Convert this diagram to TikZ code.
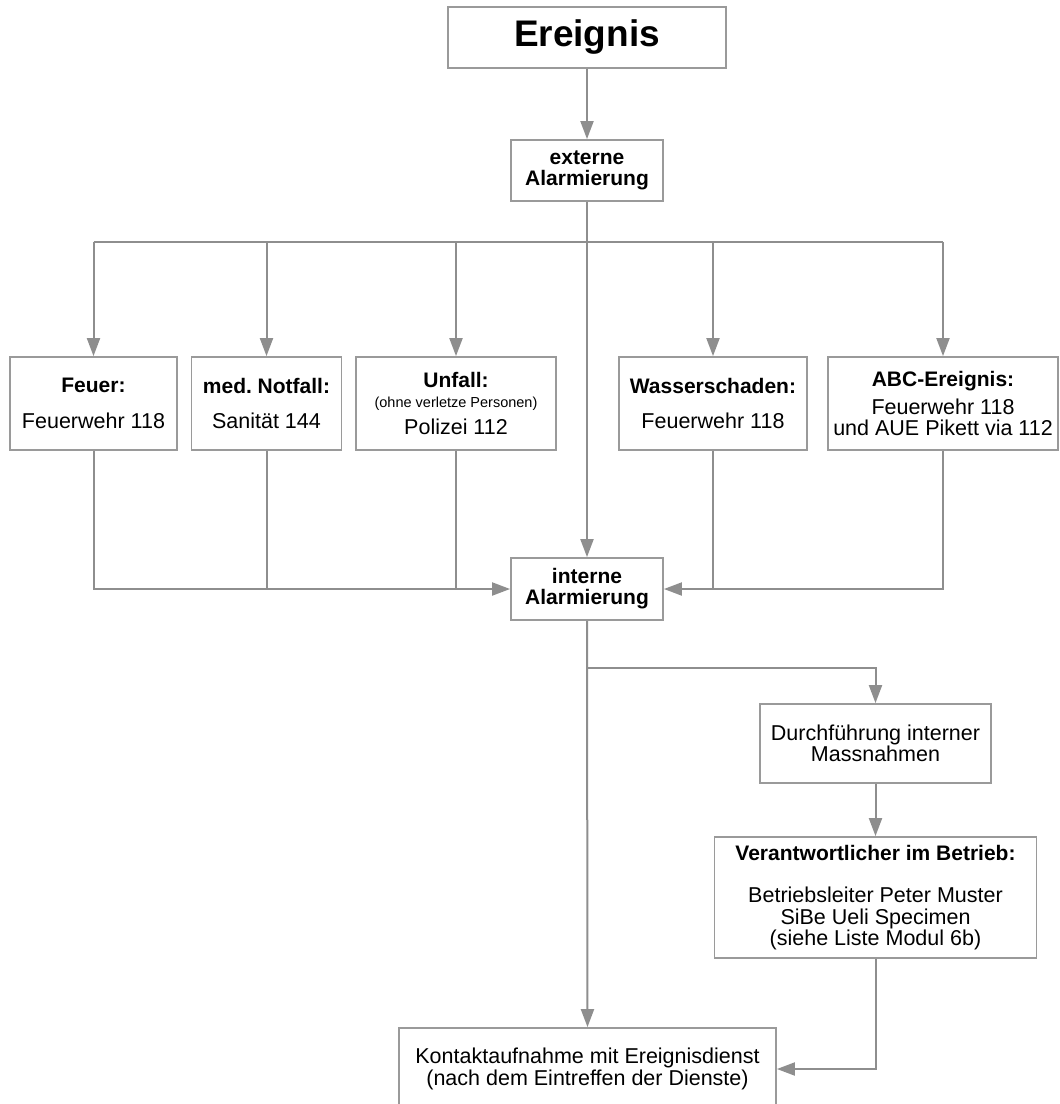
\documentclass[tikz,border=0pt]{standalone}
\usepackage{fontspec}
\setmainfont{Liberation Sans}
\usetikzlibrary{arrows.meta}

\definecolor{linegray}{HTML}{8E8E8E}
\definecolor{boxgray}{HTML}{9A9A9A}

\newcommand\fsreg{\fontsize{21.5}{21.5}\selectfont}
\newcommand\fsbold{\fontsize{21}{21}\selectfont\bfseries}
\newcommand\fssmall{\fontsize{14.5}{16}\selectfont}
\newcommand\fsbig{\fontsize{37}{40}\selectfont\bfseries}

\tikzset{
  box/.style={draw=boxgray, line width=1.8pt, inner sep=0pt, align=center, font=\fsreg},
  conn/.style={draw=linegray, line width=2pt},
  arr/.style={conn, -{Triangle[length=18pt,width=13pt]}, color=linegray}
}

\frenchspacing
\begin{document}
\begin{tikzpicture}[x=1pt, y=-1pt]
  \useasboundingbox (0,0) rectangle (1060,1104);
  \clip (0,0) rectangle (1060,1104);

  % top of the chain
  \node[box, minimum width=278pt, minimum height=61pt, font=\fsbig] (ereignis) at (587,37.5) {\raisebox{-2pt}{Ereignis}};
  \node[box, minimum width=152pt, minimum height=61pt, font=\fsbold] (extern) at (587,170.5) {externe\\Alarmierung};

  % event categories
  \node[box, minimum width=167pt, minimum height=93pt] (feuer) at (93.5,403.5)
    {\fsbold Feuer:\\[14pt]Feuerwehr 118};
  \node[box, minimum width=150pt, minimum height=93pt] (med) at (266.5,403.5)
    {\fsbold med.\ Notfall:\\[14pt]Sanität 144};
  \node[box, minimum width=200pt, minimum height=93pt] (unfall) at (456,403.5)
    {\fsbold Unfall:\\[-2pt]\fssmall (ohne verletze Personen)\\[6pt]\fsreg Polizei 112};
  \node[box, minimum width=188pt, minimum height=93pt] (wasser) at (713,403.5)
    {\fsbold Wasserschaden:\\[14pt]Feuerwehr 118};
  \node[box, minimum width=230pt, minimum height=93pt] (abc) at (943,403.5)
    {\fsbold ABC-Ereignis:\\[6pt]Feuerwehr 118\\und AUE Pikett via 112};

  \node[box, minimum width=152pt, minimum height=62pt, font=\fsbold] (intern) at (587,589) {interne\\Alarmierung};

  % internal measures
  \node[box, minimum width=231pt, minimum height=79pt] (durch) at (875.5,743.5)
    {Durchführung interner\\Massnahmen};
  \node[box, minimum width=322pt, minimum height=121pt] (verant) at (875.5,897.5)
    {\fsbold Verantwortlicher im Betrieb:\\[21pt]Betriebsleiter Peter Muster\\SiBe Ueli Specimen\\(siehe Liste Modul 6b)};

  \node[box, minimum width=377pt, minimum height=82pt] (kontakt) at (587.5,1069)
    {Kontaktaufnahme mit Ereignisdienst\\(nach dem Eintreffen der Dienste)};

  % junction points
  \coordinate (bus) at (587,242);
  \coordinate (split) at (587,668);

  % connectors
  \draw[arr] (ereignis) -- (extern);
  \draw[conn] (extern.south) -- (bus);
  \draw[conn] (feuer.north |- bus) -- (abc.north |- bus);
  \foreach \n in {feuer,med,unfall,wasser,abc}
    \draw[arr] (\n.north |- bus) -- (\n.north);
  \draw[arr] (bus) -- (intern.north);

  \foreach \n in {med,unfall}
    \draw[conn] (\n.south) -- (\n.south |- intern.west);
  \draw[conn] (wasser.south) -- (wasser.south |- intern.east);
  \draw[arr] (feuer.south) |- (intern.west);
  \draw[arr] (abc.south) |- (intern.east);

  \draw[arr] (intern.south) -- (kontakt.north);
  \draw[arr] (split) -| (durch.north);
  \draw[arr] (durch.south) -- (verant.north);
  \draw[arr] (verant.south) |- (kontakt.east);
\end{tikzpicture}
\end{document}
